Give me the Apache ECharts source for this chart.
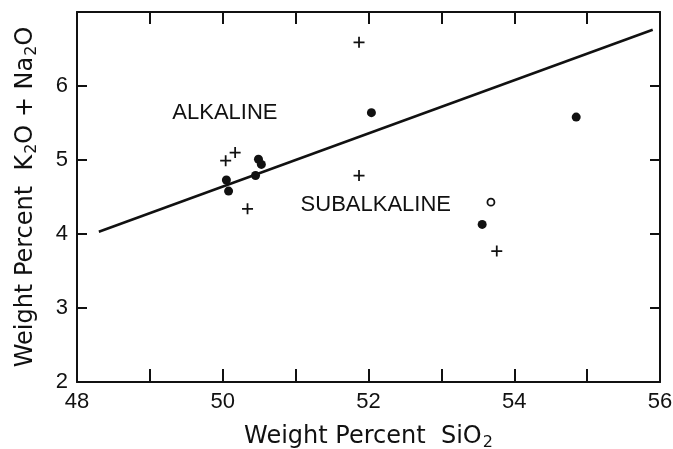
<!DOCTYPE html>
<html>
<head>
<meta charset="utf-8">
<script src="https://cdn.jsdelivr.net/npm/echarts@6/dist/echarts.min.js"></script>
<style>
  html, body { margin: 0; background: #fff; }
  #chart { width: 673px; height: 449px; }
</style>
</head>
<body>
<div id="chart"></div>
<script>
// SiO2 (wt%) vs K2O + Na2O (wt%)
var crosses = [[50.04, 4.99], [50.17, 5.10], [50.34, 4.34], [51.87, 6.59], [51.87, 4.79], [53.76, 3.77]];
var dots = [[50.05, 4.73], [50.08, 4.58], [50.45, 4.79], [50.49, 5.01], [50.53, 4.94], [52.04, 5.64], [53.56, 4.13], [54.85, 5.58]];
var openDots = [[53.68, 4.43]];
// alkaline / subalkaline dividing line
var divider = [[48.3, 4.03], [55.9, 6.76]];
var fieldLabels = [['ALKALINE', 50.03, 5.64], ['SUBALKALINE', 52.1, 4.39]];
var xTicks = [48, 50, 52, 54, 56];
var yTicks = [2, 3, 4, 5, 6];

var ink = '#111';
var font = "'Liberation Sans', Arial, sans-serif";
var nameFont = "'DejaVu Sans', sans-serif";
var plusPath = 'path://M4.2,0H5.8V4.2H10V5.8H5.8V10H4.2V5.8H0V4.2H4.2Z';

var chart = echarts.init(document.getElementById('chart'));

var subRich = {
  s: { fontSize: 16, fontFamily: nameFont, color: ink, verticalAlign: 'bottom', padding: [12, 0, 0, 1] }
};

function frameX(pos, showLabels, tickLen) {
  return {
    type: 'value',
    position: pos,
    min: 48,
    max: 56,
    interval: 1,
    axisLine: { show: true, onZero: false, lineStyle: { color: ink, width: 2 } },
    axisTick: { show: true, inside: true, length: tickLen, lineStyle: { color: ink, width: 2 } },
    axisLabel: {
      show: showLabels,
      showMinLabel: true,
      showMaxLabel: true,
      margin: 9,
      fontSize: 22,
      fontFamily: font,
      color: ink,
      formatter: function (v) { return xTicks.indexOf(v) >= 0 ? String(v) : ''; }
    },
    splitLine: { show: false }
  };
}

function frameY(pos, showLabels) {
  return {
    type: 'value',
    position: pos,
    min: 2,
    max: 7,
    interval: 1,
    axisLine: { show: true, onZero: false, lineStyle: { color: ink, width: 2 } },
    axisTick: { show: true, inside: true, length: 10, lineStyle: { color: ink, width: 2 } },
    axisLabel: {
      show: showLabels,
      showMinLabel: true,
      margin: 9,
      fontSize: 22,
      fontFamily: font,
      color: ink,
      formatter: function (v) { return yTicks.indexOf(v) >= 0 ? String(v) : ''; }
    },
    splitLine: { show: false }
  };
}

var xBottom = frameX('bottom', true, 13);
xBottom.name = 'Weight Percent  SiO{s|2}';
xBottom.nameLocation = 'middle';
xBottom.nameGap = 41;
xBottom.nameTextStyle = { fontSize: 24, fontFamily: nameFont, color: ink, rich: subRich };

var yLeft = frameY('left', true);
yLeft.name = 'Weight Percent  K{s|2}O + Na{s|2}O';
yLeft.nameLocation = 'middle';
yLeft.nameGap = 37;
yLeft.nameTextStyle = { fontSize: 24, fontFamily: nameFont, color: ink, rich: subRich };

var option = {
  backgroundColor: '#fff',
  animation: false,
  grid: { left: 77, right: 13, top: 12, bottom: 67, containLabel: false, outerBoundsMode: 'none' },
  xAxis: [xBottom, frameX('top', false, 12)],
  yAxis: [yLeft, frameY('right', false)],
  series: [
    {
      type: 'line',
      data: divider,
      symbol: 'none',
      lineStyle: { color: ink, width: 2.5 },
      z: 2
    },
    {
      type: 'scatter',
      data: dots,
      symbol: 'circle',
      symbolSize: 9,
      itemStyle: { color: ink, opacity: 1 },
      z: 3
    },
    {
      type: 'scatter',
      data: openDots,
      symbol: 'circle',
      symbolSize: 7,
      itemStyle: { color: '#fff', borderColor: ink, borderWidth: 1.8, opacity: 1 },
      z: 3
    },
    {
      type: 'scatter',
      data: crosses,
      symbol: plusPath,
      symbolSize: 11,
      itemStyle: { color: ink, opacity: 1 },
      z: 3
    },
    {
      type: 'scatter',
      data: fieldLabels.map(function (d) { return { name: d[0], value: [d[1], d[2]] }; }),
      symbolSize: 0,
      itemStyle: { opacity: 1 },
      label: {
        show: true,
        position: 'inside',
        formatter: '{b}',
        fontSize: 22,
        fontFamily: font,
        color: ink
      },
      z: 4
    }
  ]
};

chart.setOption(option);
</script>
</body>
</html>
